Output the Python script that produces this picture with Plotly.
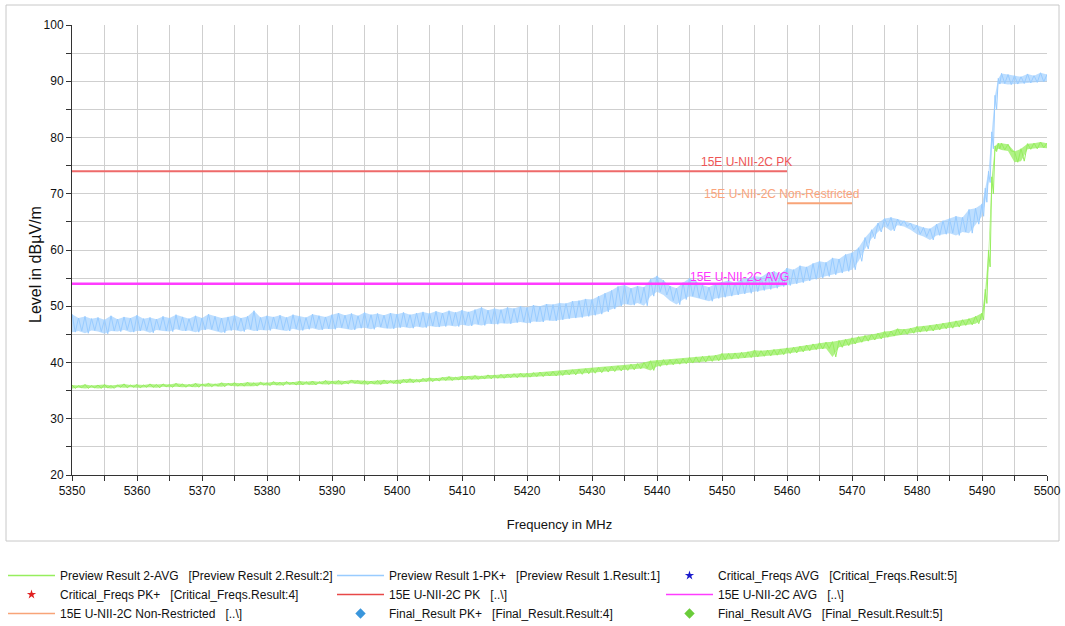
import plotly.graph_objects as go

# ---------------- data ----------------
freq_mhz = list(range(5350, 5491)) + [5490.5, 5491, 5491.5, 5492, 5492.5,
                                      5493, 5494, 5495, 5496, 5497, 5498, 5499, 5500]

# Preview Result 1-PK+ : upper / lower edge of the noisy trace per frequency point
pk_high = [
    48.6, 47.9, 48.2, 47.8, 48.0, 47.6, 48.3, 47.7, 48.1, 47.9,
    48.4, 47.8, 48.0, 47.7, 48.2, 47.9, 48.5, 48.1, 47.8, 48.3,
    47.9, 48.6, 48.2, 47.9, 48.1, 48.4, 47.9, 48.2, 49.2, 48.0,
    48.3, 48.1, 48.4, 48.0, 48.5, 48.2, 48.0, 48.6, 48.3, 48.1,
    48.5, 48.8, 48.4, 48.7, 48.3, 48.9, 48.5, 48.7, 48.4, 48.8,
    48.6, 48.9, 48.5, 48.8, 49.0, 48.7, 49.1, 48.8, 49.2, 48.9,
    49.3, 49.0, 49.4, 49.8, 49.3, 49.6, 49.4, 49.8, 49.6, 50.0,
    49.8, 50.2, 50.0, 50.4, 50.3, 50.6, 50.5, 50.9, 51.0, 51.3,
    51.2, 51.8, 52.3, 52.8, 53.5, 53.8, 53.2, 53.6, 53.4, 54.8,
    55.4, 54.6, 53.6, 53.2, 54.2, 55.0, 54.4, 53.8, 53.4, 54.0,
    54.3, 54.6, 54.2, 54.8, 55.0, 55.4, 55.2, 55.9, 56.2, 55.8,
    56.8, 56.5, 57.2, 57.0, 57.6, 58.0, 57.8, 58.6, 58.4, 59.2,
    59.5, 60.4, 62.2, 63.6, 64.8, 65.6, 65.8, 65.5, 65.2, 64.8,
    64.4, 64.0, 63.8, 64.6, 65.2, 65.6, 66.0, 65.8, 67.2, 67.4,
    68.2,
    71.0, 74.0, 81.0, 87.5, 90.5, 91.4, 91.2, 91.0, 90.8, 91.3, 91.0, 91.5, 91.2,
]
pk_low = [
    45.4, 45.6, 45.2, 45.7, 45.5, 45.1, 45.6, 45.5, 45.8, 45.4,
    45.6, 45.7, 45.3, 45.8, 45.6, 45.5, 45.9, 45.6, 45.7, 45.4,
    45.8, 45.9, 45.6, 45.3, 45.7, 45.8, 45.5, 45.9, 45.6, 45.8,
    45.7, 46.0, 45.8, 45.6, 46.0, 45.7, 45.9, 46.1, 45.8, 46.0,
    45.9, 46.2, 46.0, 45.8, 46.1, 46.2, 45.9, 46.3, 46.1, 46.0,
    46.2, 46.3, 46.1, 46.4, 46.2, 46.5, 46.3, 46.4, 46.6, 46.4,
    46.7, 46.5, 46.8, 46.6, 46.9, 46.8, 47.0, 46.9, 47.1, 47.2,
    47.0, 47.3, 47.2, 47.5, 47.4, 47.6, 47.8, 47.9, 48.0, 48.2,
    48.4, 48.6, 49.0, 49.5, 50.0, 50.4, 50.2, 50.6, 50.1, 51.8,
    52.6, 52.0, 51.0, 50.3, 51.2, 51.8, 51.5, 51.2, 50.9, 51.4,
    51.6, 51.8, 52.0, 52.2, 52.3, 52.6, 52.8, 53.0, 53.2, 53.5,
    53.7, 54.0, 54.2, 54.5, 54.8, 55.0, 55.3, 55.6, 55.9, 56.2,
    56.5, 58.0, 60.2, 62.0, 63.2, 64.2, 63.4, 64.4, 64.2, 63.6,
    62.8, 62.4, 61.8, 62.6, 62.8, 63.0, 62.6, 63.2, 63.0, 64.6,
    66.0,
    68.5, 72.0, 78.0, 85.0, 89.5, 89.6, 89.4, 89.5, 89.6, 89.7, 89.8, 89.9, 90.0,
]

# Preview Result 2-AVG : upper / lower edge per frequency point
avg_high = [
    36.0, 35.9, 36.1, 35.9, 36.0, 36.1, 35.9, 36.0, 36.2, 36.0,
    36.1, 36.0, 36.2, 36.1, 36.2, 36.1, 36.3, 36.2, 36.1, 36.3,
    36.2, 36.3, 36.2, 36.4, 36.3, 36.4, 36.3, 36.5, 36.4, 36.5,
    36.4, 36.6, 36.5, 36.6, 36.5, 36.7, 36.6, 36.7, 36.6, 36.8,
    36.7, 36.8, 36.7, 36.9, 36.8, 36.8, 36.7, 36.8, 36.9, 36.8,
    36.9, 37.0, 37.1, 37.0, 37.2, 37.3, 37.2, 37.4, 37.5, 37.4,
    37.6, 37.6, 37.7, 37.6, 37.8, 37.8, 37.9, 37.9, 38.0, 38.1,
    38.1, 38.2, 38.3, 38.3, 38.4, 38.5, 38.6, 38.7, 38.8, 38.9,
    39.0, 39.1, 39.2, 39.3, 39.4, 39.5, 39.7, 39.8, 40.0, 40.3,
    40.4, 40.5, 40.5, 40.6, 40.7, 40.9, 41.0, 41.1, 41.2, 41.3,
    41.6, 41.6, 41.7, 41.8, 41.9, 42.2, 42.1, 42.2, 42.3, 42.4,
    42.6, 42.7, 42.9, 43.1, 43.3, 43.5, 43.6, 43.7, 43.9, 44.1,
    44.4, 44.6, 44.8, 45.0, 45.2, 45.5, 45.6, 46.0, 45.9, 46.1,
    46.4, 46.5, 46.6, 46.8, 47.0, 47.2, 47.4, 47.6, 47.8, 48.2,
    48.8,
    53.0, 60.0, 73.0, 78.5, 79.0, 79.0, 78.8, 77.5, 78.0, 78.9, 79.0, 79.2, 79.0,
]
avg_low = [
    35.4, 35.5, 35.4, 35.5, 35.4, 35.5, 35.4, 35.6, 35.5, 35.6,
    35.5, 35.6, 35.6, 35.5, 35.7, 35.6, 35.7, 35.6, 35.7, 35.6,
    35.8, 35.7, 35.8, 35.7, 35.9, 35.8, 35.8, 35.9, 35.8, 36.0,
    35.9, 36.0, 35.9, 36.1, 36.0, 36.0, 36.1, 36.0, 36.2, 36.1,
    36.2, 36.1, 36.2, 36.3, 36.2, 36.1, 36.2, 36.1, 36.2, 36.3,
    36.2, 36.4, 36.4, 36.5, 36.6, 36.6, 36.7, 36.8, 36.8, 36.9,
    36.9, 37.0, 37.0, 37.1, 37.1, 37.2, 37.2, 37.3, 37.3, 37.4,
    37.4, 37.5, 37.5, 37.6, 37.6, 37.7, 37.8, 37.8, 37.9, 38.0,
    38.1, 38.2, 38.3, 38.4, 38.5, 38.6, 38.7, 38.9, 39.0, 38.6,
    39.3, 39.5, 39.6, 39.7, 39.8, 39.9, 40.0, 40.1, 40.2, 40.3,
    40.5, 40.6, 40.7, 40.8, 40.9, 41.0, 41.1, 41.2, 41.3, 41.4,
    41.6, 41.7, 41.9, 42.1, 42.3, 42.4, 42.5, 41.0, 42.7, 43.0,
    43.3, 43.6, 43.8, 44.0, 44.2, 44.5, 44.7, 44.9, 45.0, 45.2,
    45.4, 45.5, 45.6, 45.8, 46.0, 46.1, 46.3, 46.6, 46.7, 46.9,
    47.6,
    50.5, 57.0, 70.0, 77.5, 78.0, 77.8, 77.6, 75.6, 75.8, 77.9, 78.0, 78.2, 78.1,
]

# Limit lines
limit_freqs = [5350, 5460]
pk_limit = [74, 74]
avg_limit = [54, 54]
nonrestr_freqs = [5460, 5470]
nonrestr_limit = [68.3, 68.3]

x_range = [5350, 5500]
y_range = [20, 100]

assert len(freq_mhz) == len(pk_high) == len(pk_low) == len(avg_high) == len(avg_low)


def zigzag(f, hi, lo):
    """Alternate upper and lower edge readings to draw the noisy band."""
    xs, ys = [], []
    n = len(f)
    for i in range(n):
        step = (f[i + 1] - f[i]) if i + 1 < n else (f[i] - f[i - 1])
        xs += [f[i], f[i] + step / 2]
        ys += [hi[i], lo[i]]
    return xs, ys


FONT = "Liberation Sans, Arial, sans-serif"
C_GREEN = "#96EE5E"
C_BLUE = "#99CCFF"
C_RED = "#EE6A6A"
C_MAG = "#FF3CFF"
C_ORANGE = "#F8A478"

SP = "\u00a0\u00a0\u00a0"

fig = go.Figure()


def add_band(hi, lo, color, fill_rgba):
    # filled envelope between lower and upper edge readings
    fig.add_trace(go.Scatter(x=freq_mhz, y=lo, mode="lines", line=dict(width=0, color=color),
                             showlegend=False, hoverinfo="skip"))
    fig.add_trace(go.Scatter(x=freq_mhz, y=hi, mode="lines", line=dict(width=0, color=color),
                             fill="tonexty", fillcolor=fill_rgba,
                             showlegend=False, hoverinfo="skip"))
    zx, zy = zigzag(freq_mhz, hi, lo)
    fig.add_trace(go.Scatter(x=zx, y=zy, mode="lines", line=dict(color=color, width=1),
                             showlegend=False))


add_band(avg_high, avg_low, C_GREEN, "rgba(150,238,94,0.75)")
add_band(pk_high, pk_low, C_BLUE, "rgba(153,204,255,0.65)")

# limit lines
fig.add_trace(go.Scatter(x=limit_freqs, y=pk_limit, mode="lines",
                         line=dict(color=C_RED, width=2), showlegend=False))
fig.add_trace(go.Scatter(x=limit_freqs, y=avg_limit, mode="lines",
                         line=dict(color=C_MAG, width=2.5), showlegend=False))
fig.add_trace(go.Scatter(x=nonrestr_freqs, y=nonrestr_limit, mode="lines",
                         line=dict(color=C_ORANGE, width=2), showlegend=False))

# legend entries (in the reference's order)
legend_items = [
    ("Preview Result 2-AVG" + SP + "[Preview Result 2.Result:2]", "lines", dict(color=C_GREEN, width=1.5), None),
    ("Preview Result 1-PK+" + SP + "[Preview Result 1.Result:1]", "lines", dict(color=C_BLUE, width=1.5), None),
    ("Critical_Freqs AVG" + SP + "[Critical_Freqs.Result:5]", "markers", None, dict(symbol="star", color="#1a1acc", size=7)),
    ("Critical_Freqs PK+" + SP + "[Critical_Freqs.Result:4]", "markers", None, dict(symbol="star", color="#e02020", size=7)),
    ("15E U-NII-2C PK" + SP + "[..\\]", "lines", dict(color="#E84848", width=1.5), None),
    ("15E U-NII-2C AVG" + SP + "[..\\]", "lines", dict(color=C_MAG, width=1.5), None),
    ("15E U-NII-2C Non-Restricted" + SP + "[..\\]", "lines", dict(color=C_ORANGE, width=1.5), None),
    ("Final_Result PK+" + SP + "[Final_Result.Result:4]", "markers", None, dict(symbol="diamond", color="#3a96dc", size=8)),
    ("Final_Result AVG" + SP + "[Final_Result.Result:5]", "markers", None, dict(symbol="diamond", color="#6acc3a", size=8)),
]
for rank, (name, mode, line, marker) in enumerate(legend_items, start=1):
    kw = dict(x=[None], y=[None], mode=mode, name=name, legendrank=rank, showlegend=True)
    if line is not None:
        kw["line"] = line
    if marker is not None:
        kw["marker"] = marker
    fig.add_trace(go.Scatter(**kw))

# limit line labels
fig.add_annotation(x=limit_freqs[1], y=pk_limit[1], text="15E U-NII-2C PK",
                   xanchor="right", yanchor="bottom", xshift=7, yshift=0, showarrow=False,
                   font=dict(family=FONT, size=12, color="#EE5555"))
fig.add_annotation(x=nonrestr_freqs[1], y=nonrestr_limit[1], text="15E U-NII-2C Non-Restricted",
                   xanchor="right", yanchor="bottom", xshift=9, yshift=0, showarrow=False,
                   font=dict(family=FONT, size=12, color="#FAA47C"))
fig.add_annotation(x=limit_freqs[1], y=avg_limit[1], text="15E U-NII-2C AVG",
                   xanchor="right", yanchor="bottom", xshift=4, yshift=-2, showarrow=False,
                   font=dict(family=FONT, size=12, color="#FF33FF"))

W, H = 1065, 626
L, R, T, B = 72, 18, 25, 151
pw, ph = W - L - R, H - T - B

# y-axis title, placed as in the reference (pixel position converted to paper units)
ytitle_x_px, ytitle_y_px = 35, 265
fig.add_annotation(xref="paper", yref="paper",
                   x=(ytitle_x_px - L) / pw, y=(H - B - ytitle_y_px) / ph,
                   text="Level in dBµV/m", textangle=-90, showarrow=False,
                   xanchor="center", yanchor="middle",
                   font=dict(family=FONT, size=16, color="#111111"))

# outer light frame around the chart (pixel positions converted to paper units)
fx0, fx1, fy0, fy1 = 6, 1059, 5, 541
fig.add_shape(type="rect", xref="paper", yref="paper",
              x0=(fx0 - L) / pw, x1=(fx1 - L) / pw,
              y0=(H - B - fy1) / ph, y1=(H - B - fy0) / ph,
              line=dict(color="#C8C8C8", width=1), fillcolor="rgba(0,0,0,0)", layer="below")

axis_common = dict(
    showline=True, linecolor="#333333", linewidth=1,
    ticks="outside", ticklen=5, tickcolor="#333333", tickwidth=1,
    showgrid=True, gridcolor="#CFCFCF", gridwidth=1, zeroline=False,
    automargin=False,
    tickfont=dict(family=FONT, size=12, color="#111111"),
    minor=dict(ticks="outside", ticklen=5, tickcolor="#333333", showgrid=True,
               gridcolor="#CFCFCF", gridwidth=1, dtick=5),
)

# legend placement (pixel positions converted to paper units)
leg_left_px, leg_top_px = 3, 561

fig.update_layout(
    width=W, height=H,
    margin=dict(l=L, r=R, t=T, b=B, autoexpand=False),
    paper_bgcolor="white", plot_bgcolor="white",
    font=dict(family=FONT, size=12, color="#111111"),
    xaxis=dict(range=x_range, dtick=10, tick0=5350,
               title=dict(text="Frequency in MHz", standoff=22,
                          font=dict(family=FONT, size=13, color="#111111")),
               **axis_common),
    yaxis=dict(range=y_range, dtick=10, tick0=20, **axis_common),
    showlegend=True,
    legend=dict(orientation="h", xref="paper", yref="paper",
                x=(leg_left_px - L) / pw, y=(H - B - leg_top_px) / ph,
                xanchor="left", yanchor="top",
                entrywidth=267, entrywidthmode="pixels", itemwidth=47,
                font=dict(family=FONT, size=12, color="#111111"),
                bgcolor="rgba(0,0,0,0)", traceorder="normal", tracegroupgap=0),
)

fig.write_html("out.html", config={"displayModeBar": False},
               post_script="document.body.style.margin='0px';")
